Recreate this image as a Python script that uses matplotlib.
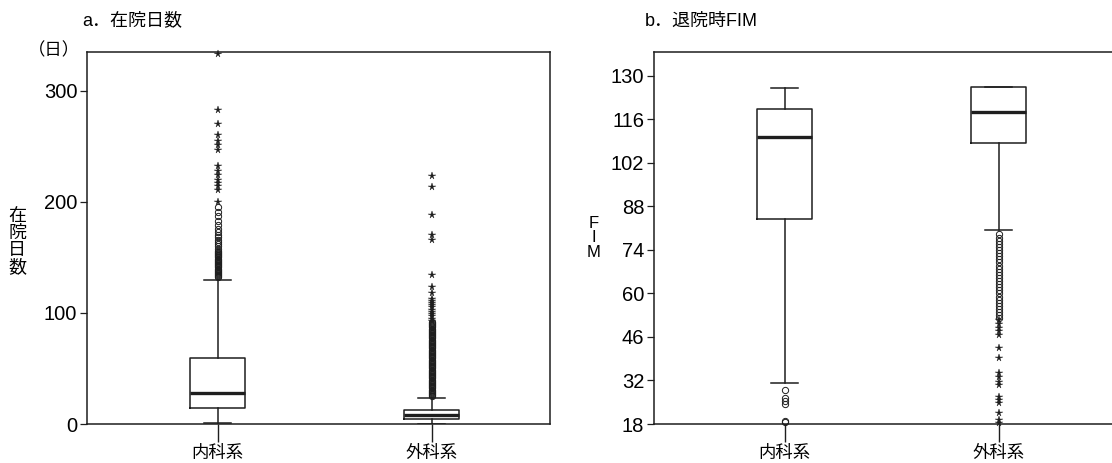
import numpy as np
import matplotlib.pyplot as plt

plt.rcParams['font.family'] = ['Liberation Sans', 'Noto Sans CJK JP', 'DejaVu Sans']

cats = ['内科系', '外科系']

# a. 在院日数 (days)
los_q1 = [14.5, 4.5]
los_med = [28, 8]
los_q3 = [59.5, 12.6]
los_lo = [1, 0]
los_hi = [130, 23.5]
los_circ_med = [132, 133, 134, 135, 136, 137, 138, 139, 140, 141, 142, 143, 144, 145,
                146, 147, 148, 149, 150, 151, 152, 153, 154, 155, 156, 158, 160, 162,
                164, 166, 168, 170, 173, 176, 179, 183, 187, 191, 195]
los_star_med = [200, 211, 214, 217, 220, 224, 228, 232, 247, 251, 255, 260, 270, 283, 333]
los_circ_sur = [25, 26, 27, 28, 29, 30, 31, 32, 33, 34, 35, 36, 37, 38, 39, 40, 41, 42,
                43, 44, 45, 46, 47, 48, 49, 50, 51, 52, 53, 54, 55, 56, 57, 58, 59, 60,
                61, 62, 63, 64, 65, 66, 67, 68, 69, 70, 71, 72, 73, 74, 75, 76, 77, 78,
                79, 80, 81, 82, 83, 84, 85, 86, 87, 88, 89, 90, 91, 92]
los_star_sur = [93, 95, 97, 99, 101, 103, 105, 107, 109, 111, 113, 118, 123, 134,
                166, 170, 188, 213, 223]

# b. 退院時FIM
fim_q1 = [84, 108.4]
fim_med = [110.4, 118.4]
fim_q3 = [119.4, 126.5]
fim_lo = [31.3, 80.5]
fim_hi = [126, 126.5]
fim_circ_med = [29, 26.5, 25.5, 24.5, 19, 18.5]
fim_star_med = []
fim_circ_sur = [52, 53, 54, 55, 56, 57, 58, 59, 60, 61, 62, 63, 64, 65, 66, 67, 68, 69,
                70, 71, 72, 73, 74, 75, 76, 77, 78, 79]
fim_star_sur = [18.3, 19.3, 21.5, 24.6, 25.7, 26.8, 30.5, 31.6, 33.1, 34.4, 39.1, 42.4,
                46.6, 47.8, 49, 50.2, 51.4]

ink = '#1e1e1e'
pos = [1, 2]

fig = plt.figure(figsize=(11.12, 4.63), dpi=100)
ax1 = fig.add_axes([87/1112, 1-424/463, 463/1112, 372/463])
ax2 = fig.add_axes([654/1112, 1-424/463, 463/1112, 372/463])


def draw(ax, q1, med, q3, lo, hi, circs, stars):
    stats = []
    for i in range(2):
        stats.append(dict(q1=q1[i], med=med[i], q3=q3[i], whislo=lo[i], whishi=hi[i],
                          fliers=[]))
    ax.bxp(stats, positions=pos, widths=0.257, showfliers=False,
           boxprops=dict(color=ink, lw=1.1),
           medianprops=dict(color=ink, lw=2.4),
           whiskerprops=dict(color=ink, lw=1.1),
           capprops=dict(color=ink, lw=1.1))
    for i in range(2):
        if circs[i]:
            ax.plot([pos[i]] * len(circs[i]), circs[i], 'o', mfc='none', mec=ink,
                    ms=4.5, mew=0.7, clip_on=False)
        if stars[i]:
            ax.plot([pos[i]] * len(stars[i]), stars[i], '*', color=ink,
                    ms=5.5, mew=0.3, clip_on=False)
    ax.set_xlim(0.389, 2.554)
    ax.set_xticks(pos)
    ax.set_xticklabels(cats, fontsize=12.5)
    ax.tick_params(axis='x', length=13, width=1, color=ink, pad=2)
    ax.tick_params(axis='y', length=5, width=0.9, color=ink, labelsize=14.5, pad=2)
    for s in ax.spines.values():
        s.set_color(ink)
        s.set_linewidth(1.1)


draw(ax1, los_q1, los_med, los_q3, los_lo, los_hi,
     [los_circ_med, los_circ_sur], [los_star_med, los_star_sur])
ax1.set_ylim(0, 335)
ax1.set_yticks([0, 100, 200, 300])

draw(ax2, fim_q1, fim_med, fim_q3, fim_lo, fim_hi,
     [fim_circ_med, fim_circ_sur], [fim_star_med, fim_star_sur])
ax2.set_ylim(18, 137.7)
ax2.set_yticks([18, 32, 46, 60, 74, 88, 102, 116, 130])

fig.text(82/1112, 1-21/463, 'a．在院日数', fontsize=13, va='center', ha='left')
fig.text(645/1112, 1-21/463, 'b．退院時FIM', fontsize=13, va='center', ha='left')
fig.text(80/1112, 1-50/463, '（日）', fontsize=12.5, va='center', ha='right')
fig.text(17/1112, 1-242/463, '在\n院\n日\n数', fontsize=13, va='center', ha='center',
         linespacing=1.0)
fig.text(594/1112, 1-238/463, 'F\nI\nM', fontsize=12, va='center', ha='center',
         linespacing=0.95)

fig.savefig('out.png', dpi=100)
